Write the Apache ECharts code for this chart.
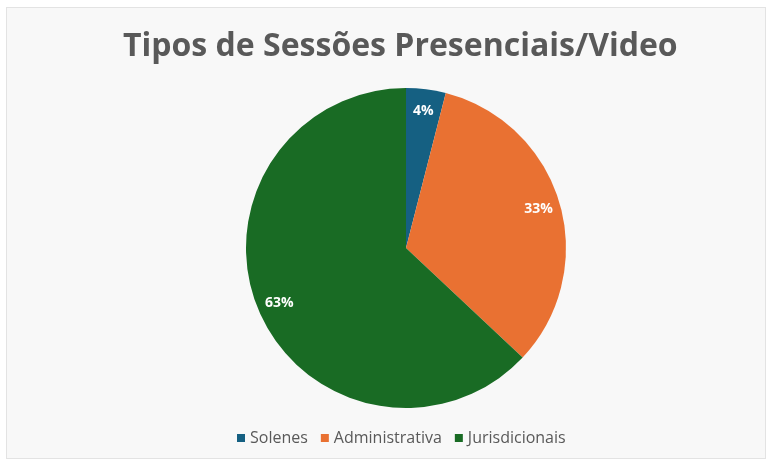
<!DOCTYPE html>
<html>
<head>
<meta charset="utf-8">
<script src="https://cdn.jsdelivr.net/npm/echarts@6/dist/echarts.min.js"></script>
<style>
  html, body { margin: 0; padding: 0; background: #ffffff; }
  #chart {
    position: absolute;
    left: 6px; top: 7px;
    width: 758px; height: 450px;
    border: 1px solid #e3e3e3;
    background: #f8f8f8;
  }
</style>
</head>
<body>
<div id="chart"></div>
<script>
const titleText = 'Tipos de Sessões Presenciais/Video'
const categories = ['Solenes', 'Administrativa', 'Jurisdicionais']
const values = [4, 33, 63]
const colors = ['#156082', '#E97132', '#196B24']

const chart = echarts.init(document.getElementById('chart'))

const pieData = categories.map((name, i) => ({
  name,
  value: values[i],
  itemStyle: { color: colors[i] }
}))

const option = {
  animation: false,
  title: {
    text: titleText,
    left: 111,
    top: 18,
    textStyle: {
      fontFamily: 'Open Sans',
      fontSize: 32,
      fontWeight: 'bold',
      color: '#595959'
    }
  },
  legend: {
    data: categories,
    bottom: 7,
    left: 225,
    icon: 'rect',
    itemWidth: 8,
    itemHeight: 8,
    itemGap: 13,
    textStyle: {
      fontFamily: 'Open Sans',
      fontSize: 16,
      color: '#595959'
    }
  },
  series: [
    {
      type: 'pie',
      center: [399, 240],
      radius: [0, 160],
      startAngle: 90,
      clockwise: true,
      label: { show: false },
      labelLine: { show: false },
      data: pieData
    },
    {
      // transparent ring used only to place the labels near the rim
      type: 'pie',
      silent: true,
      center: [399, 240],
      radius: [110, 160],
      startAngle: 90,
      clockwise: true,
      itemStyle: { color: 'transparent' },
      label: {
        show: true,
        position: 'inside',
        formatter: p => p.value + '%',
        color: '#ffffff',
        fontFamily: 'Open Sans',
        fontWeight: 'bold',
        fontSize: 14
      },
      labelLine: { show: false },
      data: categories.map((name, i) => ({ name, value: values[i] }))
    }
  ]
}

chart.setOption(option)
</script>
</body>
</html>
